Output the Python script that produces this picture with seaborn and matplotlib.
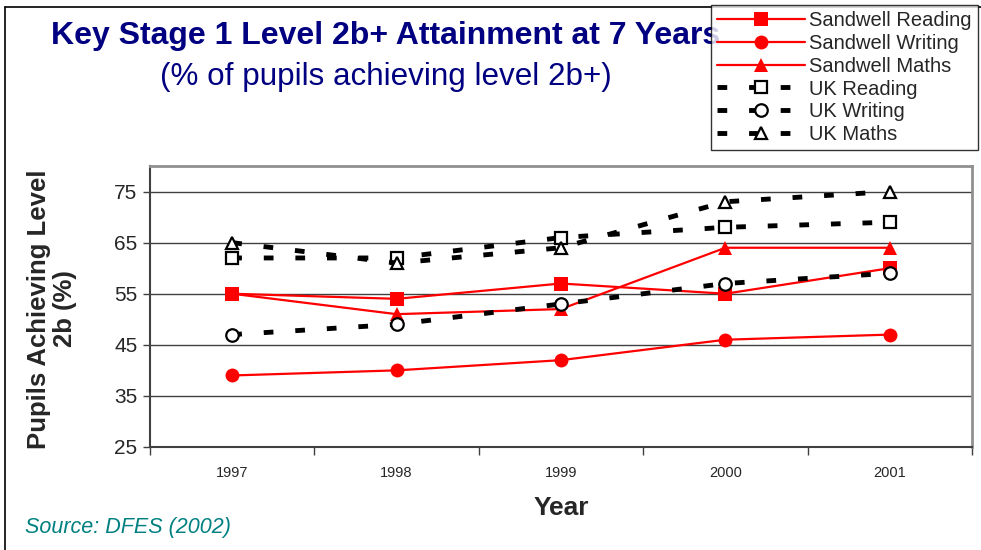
import numpy as np
import pandas as pd
import seaborn as sns
import matplotlib.pyplot as plt
from matplotlib.lines import Line2D

years = [1997, 1998, 1999, 2000, 2001]
sandwell_reading = [55, 54, 57, 55, 60]
sandwell_writing = [39, 40, 42, 46, 47]
sandwell_maths = [55, 51, 52, 64, 64]
uk_reading = [62, 62, 66, 68, 69]
uk_writing = [47, 49, 53, 57, 59]
uk_maths = [65, 61, 64, 73, 75]

sns.set_style("white")
plt.rcParams['font.family'] = ['Liberation Sans', 'DejaVu Sans']

fig = plt.figure(figsize=(9.81, 5.5), dpi=100)
ax = fig.add_axes([150 / 981, 1 - 447 / 550, (972 - 150) / 981, (447 - 166) / 550])

red = '#ff0000'
series = [
    ("Sandwell Reading", sandwell_reading, red, 's', '-', red),
    ("Sandwell Writing", sandwell_writing, red, 'o', '-', red),
    ("Sandwell Maths", sandwell_maths, red, '^', '-', red),
    ("UK Reading", uk_reading, 'black', 's', (0, (2, 4.5)), 'white'),
    ("UK Writing", uk_writing, 'black', 'o', (0, (2, 4.5)), 'white'),
    ("UK Maths", uk_maths, 'black', '^', (0, (2, 4.5)), 'white'),
]

for name, vals, col, mk, ls, fc in series:
    df = pd.DataFrame({"Year": years, "Pct": vals})
    dashed = col == 'black'
    sns.lineplot(data=df, x="Year", y="Pct", ax=ax, color=col, marker=mk,
                 linestyle=ls, linewidth=3.5 if dashed else 1.6,
                 markersize=9 if dashed else 10, markerfacecolor=fc,
                 markeredgecolor=col, markeredgewidth=1.6 if dashed else 0,
                 label=name, legend=False, dash_capstyle='butt', zorder=3)

ax.set_xlim(1996.5, 2001.5)
ax.set_ylim(25, 80)
ax.set_yticks([25, 35, 45, 55, 65, 75])
ax.set_xticks(years)
ax.set_xticklabels([str(y) for y in years], fontsize=10.5)
ax.set_xticks([1996.5 + i for i in range(6)], minor=True)
ax.tick_params(axis='x', which='major', length=0, pad=14)
ax.tick_params(axis='x', which='minor', length=6, width=1, color='#404040', direction='out', bottom=True)
ax.tick_params(axis='y', length=5, width=1, color='#404040', direction='out', left=True, labelsize=15, pad=4)
ax.yaxis.grid(True, color='#404040', linewidth=1)
ax.set_axisbelow(True)
ax.set_xlabel("")
ax.set_ylabel("")
for side in ['left', 'bottom']:
    ax.spines[side].set_color('#404040')
    ax.spines[side].set_linewidth(1.5)
for side in ['top', 'right']:
    ax.spines[side].set_color('#909090')
    ax.spines[side].set_linewidth(2)

fig.text(386 / 981, 1 - 36 / 550, "Key Stage 1 Level 2b+ Attainment at 7 Years",
         ha='center', va='center', fontsize=23, fontweight='bold', color='#000080')
fig.text(386 / 981, 1 - 77 / 550, "(% of pupils achieving level 2b+)",
         ha='center', va='center', fontsize=22.6, color='#000080')
fig.text(52 / 981, 1 - 309 / 550, "Pupils Achieving Level\n2b (%)", rotation=90,
         ha='center', va='center', multialignment='center', fontsize=18.5, fontweight='bold',
         linespacing=1.1)
fig.text(561 / 981, 1 - 508 / 550, "Year", ha='center', va='center', fontsize=19, fontweight='bold')
fig.text(25 / 981, 1 - 528 / 550, "Source: DFES (2002)", ha='left', va='center',
         fontsize=15.5, style='italic', color='#008080')

# page border on left and top
fig.add_artist(Line2D([5 / 981, 5 / 981], [0, 1 - 7 / 550], color='black', lw=1.2))
fig.add_artist(Line2D([5 / 981, 1], [1 - 7 / 550, 1 - 7 / 550], color='black', lw=1.2))

handles, labels = ax.get_legend_handles_labels()
leg = fig.legend(handles, labels, loc='upper right', bbox_to_anchor=(978 / 981, 1 - 5 / 550),
                 fontsize=14.5, handlelength=4.4, handletextpad=0.2, labelspacing=0.19,
                 borderpad=0.3, fancybox=False, frameon=True, borderaxespad=0)
leg.get_frame().set_edgecolor('black')
leg.get_frame().set_linewidth(1)
leg.set_zorder(10)

fig.savefig("out.png", dpi=100)
